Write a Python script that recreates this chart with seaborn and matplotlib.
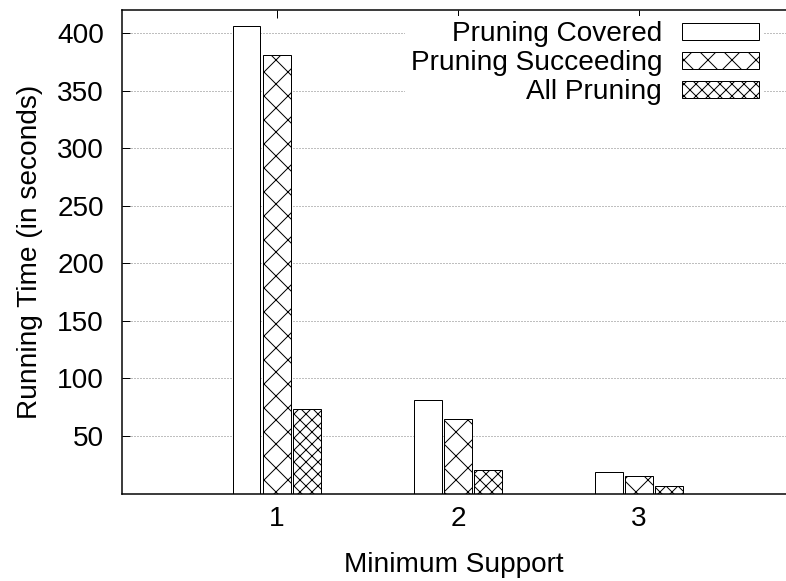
import pandas as pd
import matplotlib
matplotlib.use("Agg")
import matplotlib.pyplot as plt
import seaborn as sns

# Data
support = ["1", "2", "3"]
methods = ["Pruning Covered", "Pruning Succeeding", "All Pruning"]
pruning_covered = [406.1, 80.8, 18.7]
pruning_succeeding = [381.3, 64.6, 14.8]
all_pruning = [73.3, 20.6, 6.5]
hatches = ["", "x", "xx"]

df = pd.DataFrame({
    "support": support * 3,
    "method": [m for m in methods for _ in support],
    "time": pruning_covered + pruning_succeeding + all_pruning,
})

sns.set_style("white")
plt.rcParams["font.family"] = ["Liberation Sans", "DejaVu Sans"]
plt.rcParams["hatch.linewidth"] = 1.0
for key in ["text.color", "axes.labelcolor", "xtick.color", "ytick.color", "axes.edgecolor"]:
    plt.rcParams[key] = "black"

fs = 28
fig = plt.figure(figsize=(786 / 72, 581 / 72), dpi=72)
ax = fig.add_axes([122 / 786, 1 - 493.5 / 581, 1 - 122 / 786, (493.5 - 10) / 581])

sns.barplot(data=df, x="support", y="time", hue="method", hue_order=methods,
            order=support, width=0.5, gap=0.08, palette=["white"] * 3,
            edgecolor="black", linewidth=1, legend=False, ax=ax)

for cont, h in zip(ax.containers, hatches):
    for p in cont:
        p.set_hatch(h)
        p.set_facecolor("white")
        p.set_edgecolor("black")

ax.set_xlim(-0.853, 2.81)
ax.set_ylim(0, 420)
ax.set_yticks(range(50, 401, 50))

ax.set_axisbelow(True)
ax.yaxis.grid(True, linestyle=(0, (1, 2)), color="#808080", linewidth=1)
ax.xaxis.grid(False)

for side in ["left", "top", "bottom"]:
    ax.spines[side].set_linewidth(1.5)
ax.spines["right"].set_visible(False)

ax.tick_params(axis="y", direction="in", length=8, width=1, left=True, right=False,
               pad=18, labelsize=fs)
ax.tick_params(axis="x", direction="in", length=8, width=1, bottom=False, top=True,
               labelbottom=True, labeltop=False, pad=13, labelsize=fs)

ax.set_xlabel("Minimum Support", fontsize=fs, labelpad=20)
ax.set_ylabel("Running Time (in seconds)", fontsize=fs, labelpad=14)

leg = ax.legend(handles=[c[0] for c in ax.containers], labels=methods,
                loc="upper right", bbox_to_anchor=(0.9675, 0.988), borderaxespad=0,
                borderpad=0.2, markerfirst=False, handlelength=2.75, handleheight=0.55,
                handletextpad=0.7, labelspacing=0.1, frameon=True, fancybox=False,
                edgecolor="none", facecolor="white", framealpha=1, fontsize=fs)
leg.set_zorder(2)

fig.savefig("out.png", dpi=72)
plt.close()
